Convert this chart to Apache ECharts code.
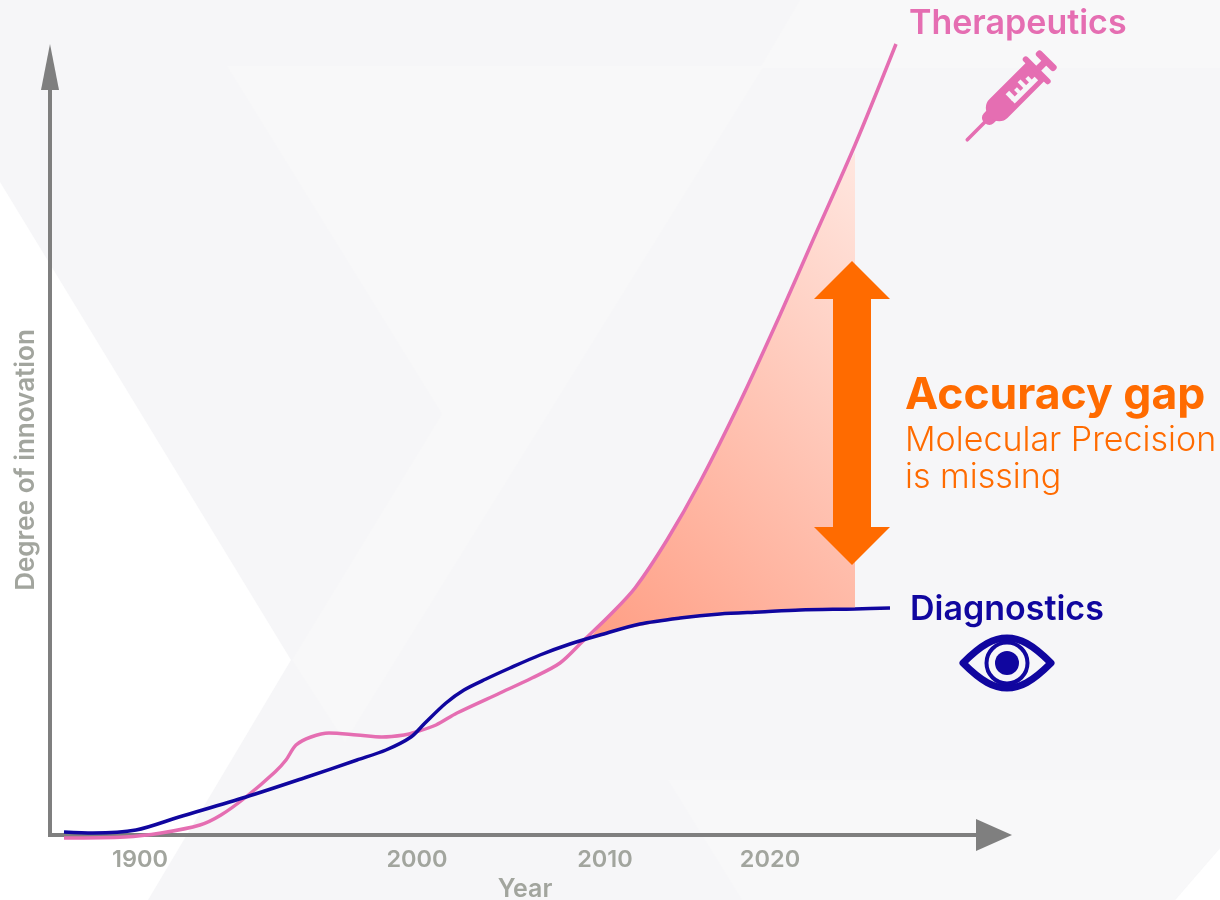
<!DOCTYPE html>
<html>
<head>
<meta charset="utf-8">
<style>
  html, body { margin: 0; padding: 0; background: #fff; }
  #main { width: 1220px; height: 900px; }
</style>
<script src="https://cdn.jsdelivr.net/npm/echarts@6/dist/echarts.min.js"></script>
</head>
<body>
<div id="main"></div>
<script>
// axis units are arbitrary, the source chart has no numbers on its y axis
var tickPositions = [90, 367, 555, 720];
var tickLabels = ['1900', '2000', '2010', '2020'];

var therapeuticsX = [14, 75, 111, 150, 171, 196, 225, 236, 246, 261, 279, 307, 332, 354, 366, 386, 407, 450, 482, 510, 533, 560, 585, 617, 650, 690, 730, 763, 805, 846];
var therapeuticsY = [-3, -2, 2, 10, 20, 38, 63, 75, 90, 98, 102, 100, 98, 100, 103, 110, 122, 142, 157, 172, 194, 220, 247, 295, 353, 433, 520, 595, 690, 791];

var diagnosticsX = [14, 43, 86, 129, 196, 254, 307, 336, 361, 375, 396, 414, 436, 460, 490, 520, 550, 590, 630, 670, 710, 750, 805, 840];
var diagnosticsY = [3, 2, 5, 18, 38, 57, 75, 85, 98, 112, 132, 145, 156, 167, 180, 191, 200, 211, 217, 221, 223, 225, 226, 227];

// shaded gap between the two curves
var gapX = [540, 550, 560, 570, 585, 600, 617, 633, 650, 670, 690, 710, 730, 750, 763, 780, 805];
var gapLower = [197, 200, 203, 205, 208, 211, 214, 216, 218, 220, 221, 223, 224, 225, 225, 226, 226];
var gapUpper = [197, 209, 220, 231, 247, 270, 295, 323, 353, 392, 433, 474, 520, 565, 595, 634, 683];

var arrowX = [802, 802];
var arrowY = [289, 555];

var pink = '#e56eb2';
var blue = '#10069f';
var orange = '#ff6b00';
var axisGrey = '#7f7f7f';
var labelGrey = '#a2a59e';
var bg = '#f6f6f8';
var fontName = 'Inter, "Open Sans", sans-serif';

echarts.graphic.registerShape('eyeOutline', echarts.graphic.extendPath(
  'M963 663 C982 644 994 638 1007 638 C1020 638 1032 644 1051 663 C1032 682 1020 688 1007 688 C994 688 982 682 963 663 Z', {}
));

function pairs(xs, ys) {
  return xs.map(function (x, i) { return [x, ys[i]]; });
}

function bgPoly(points, color) {
  return { type: 'polygon', z: -10, silent: true, shape: { points: points }, style: { fill: color } };
}

function label(text, x, y, size, weight, color) {
  return {
    type: 'text', x: x, y: y, z: 20, silent: true,
    style: { text: text, fontFamily: fontName, fontSize: size, fontWeight: weight, fill: color, verticalAlign: 'middle' }
  };
}

var myChart = echarts.init(document.getElementById('main'));
var option = {
  animation: false,
  backgroundColor: bg,
  grid: { left: 50, right: 226, top: 67, bottom: 65, outerBoundsMode: 'none' },
  xAxis: {
    type: 'value', min: 0, max: 944,
    name: 'Year', nameLocation: 'middle', nameGap: 41,
    nameTextStyle: { color: labelGrey, fontFamily: fontName, fontSize: 25, fontWeight: 600, padding: [0, 0, 0, 6] },
    splitLine: { show: false },
    axisTick: { show: false },
    axisLine: { onZero: false, symbol: ['none', 'triangle'], symbolSize: [32, 36], lineStyle: { color: axisGrey, width: 4, cap: 'square' } },
    axisLabel: {
      customValues: tickPositions, margin: 13, color: labelGrey, fontFamily: fontName, fontSize: 23.5, fontWeight: 600,
      formatter: function (v) { return tickLabels[tickPositions.indexOf(v)]; }
    }
  },
  yAxis: {
    type: 'value', min: 0, max: 768,
    name: 'Degree of innovation', nameLocation: 'middle', nameGap: 11,
    nameTextStyle: { color: labelGrey, fontFamily: fontName, fontSize: 26, fontWeight: 600, padding: [0, 18, 0, 0] },
    splitLine: { show: false },
    axisTick: { show: false },
    axisLabel: { show: false },
    axisLine: { onZero: false, symbol: ['none', 'triangle'], symbolSize: [18, 46], lineStyle: { color: axisGrey, width: 4, cap: 'square' } }
  },
  series: [
    {
      name: 'gap', type: 'custom', silent: true, clip: false, z: 1,
      data: gapX,
      renderItem: function (params, api) {
        if (params.dataIndex !== 0) return null;
        var upper = gapX.map(function (x, i) { return api.coord([x, gapUpper[i]]); });
        var lower = gapX.map(function (x, i) { return api.coord([x, gapLower[i]]); }).reverse();
        return {
          type: 'polygon',
          shape: { points: upper.concat(lower) },
          style: {
            fill: new echarts.graphic.LinearGradient(0, 1, 1.39, 0.21, [
              { offset: 0, color: '#ff9e84' },
              { offset: 1, color: '#ffe6df' }
            ])
          }
        };
      }
    },
    {
      name: 'Therapeutics', type: 'line', smooth: 0.3, showSymbol: false, silent: true, clip: false,
      lineStyle: { color: pink, width: 3.5 },
      data: pairs(therapeuticsX, therapeuticsY)
    },
    {
      name: 'Diagnostics', type: 'line', smooth: 0.3, showSymbol: false, silent: true, clip: false,
      lineStyle: { color: blue, width: 3.5 },
      data: pairs(diagnosticsX, diagnosticsY)
    },
    {
      name: 'Accuracy gap', type: 'line', silent: true, clip: false, z: 5,
      symbol: 'triangle', symbolSize: [76, 38], showSymbol: true, showAllSymbol: true,
      lineStyle: { color: orange, width: 38 },
      itemStyle: { color: orange, opacity: 1 },
      data: [
        { value: [arrowX[0], arrowY[0]], symbolRotate: 180 },
        { value: [arrowX[1], arrowY[1]] }
      ]
    }
  ],
  graphic: {
    elements: [
      // backdrop shapes
      bgPoly([[0, 182], [291, 660], [148, 900], [0, 900]], '#ffffff'),
      bgPoly([[1175, 900], [1220, 848], [1220, 900]], '#ffffff'),
      bgPoly([[227, 66], [764, 66], [345, 742], [292, 660], [442, 414]], '#f8f8f9'),
      bgPoly([[800, 0], [1220, 0], [1220, 68], [760, 68]], '#f8f8f9'),
      bgPoly([[668, 780], [1220, 780], [1220, 848], [1175, 900], [742, 900]], '#f8f8f9'),

      label('Therapeutics', 909, 24, 34, 600, pink),
      label('Diagnostics', 910, 610, 34, 600, blue),
      label('Accuracy gap', 905, 396, 44.5, 700, orange),
      label('Molecular Precision', 905, 441, 34, 300, orange),
      label('is missing', 905, 478, 34, 300, orange),

      // syringe, drawn along +x from the needle tip then turned 45 degrees
      {
        type: 'group', x: 966, y: 141, rotation: Math.PI / 4, z: 20, silent: true,
        children: [
          { type: 'rect', z: 20, shape: { x: 0, y: -1.8, width: 30, height: 3.6, r: 1.8 }, style: { fill: pink } },
          { type: 'rect', z: 20, shape: { x: 26, y: -7, width: 16, height: 14, r: 6 }, style: { fill: pink } },
          { type: 'rect', z: 20, shape: { x: 34, y: -13, width: 67, height: 26, r: [12, 0, 0, 12] }, style: { fill: pink } },
          { type: 'rect', z: 20, shape: { x: 97, y: -18.5, width: 6, height: 37, r: 3 }, style: { fill: pink } },
          { type: 'rect', z: 20, shape: { x: 100, y: -3.5, width: 14, height: 7 }, style: { fill: pink } },
          { type: 'rect', z: 20, shape: { x: 110, y: -13, width: 7, height: 26, r: 3 }, style: { fill: pink } },
          // scale marks
          { type: 'rect', z: 21, shape: { x: 61, y: 3, width: 33, height: 5 }, style: { fill: bg } },
          { type: 'rect', z: 21, shape: { x: 61, y: -5, width: 5, height: 9 }, style: { fill: bg } },
          { type: 'rect', z: 21, shape: { x: 70, y: -2, width: 4, height: 6 }, style: { fill: bg } },
          { type: 'rect', z: 21, shape: { x: 78, y: -5, width: 4, height: 9 }, style: { fill: bg } },
          { type: 'rect', z: 21, shape: { x: 86, y: -2, width: 4, height: 6 }, style: { fill: bg } }
        ]
      },

      // eye
      { type: 'eyeOutline', z: 20, silent: true, style: { fill: 'none', stroke: blue, lineWidth: 7, lineJoin: 'round' } },
      { type: 'circle', z: 20, silent: true, shape: { cx: 1007, cy: 663, r: 20.5 }, style: { fill: 'none', stroke: blue, lineWidth: 4 } },
      { type: 'circle', z: 20, silent: true, shape: { cx: 1007, cy: 663, r: 12 }, style: { fill: blue } }
    ]
  }
};
myChart.setOption(option);
</script>
</body>
</html>
